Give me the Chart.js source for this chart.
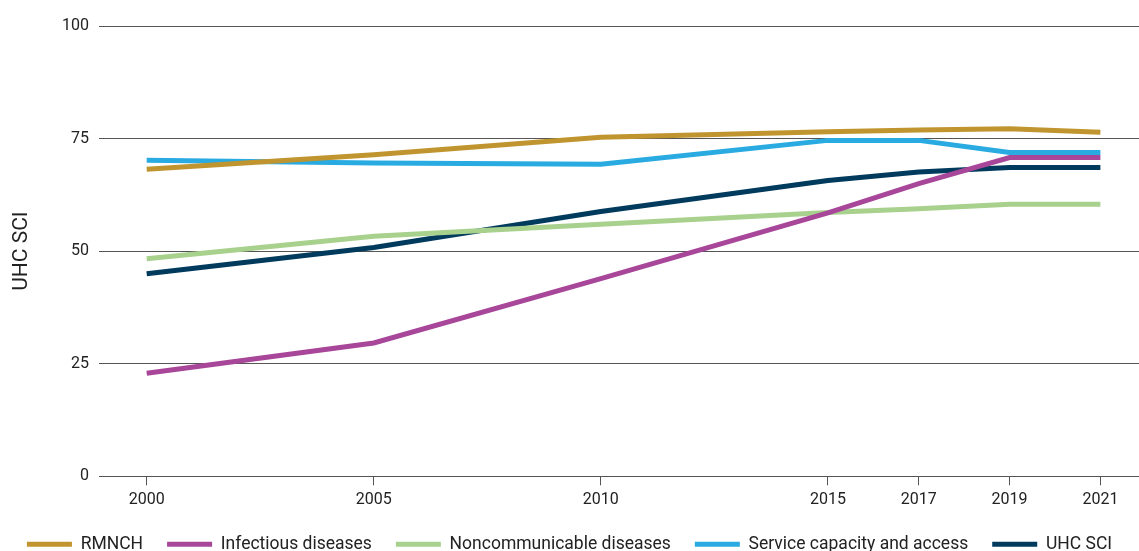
<!DOCTYPE html>
<html>
<head>
<meta charset="utf-8">
<script src="https://cdn.jsdelivr.net/npm/chart.js@4.4.1/dist/chart.umd.min.js"></script>
<style>
  html, body { margin: 0; padding: 0; background: #fff; }
  #wrap { width: 1139px; height: 551px; position: relative; }
</style>
</head>
<body>
<div id="wrap"><canvas id="c"></canvas></div>
<script>
const years = [2000, 2005, 2010, 2015, 2017, 2019, 2021];
const rmnch = [68.2, 71.4, 75.3, 76.5, 76.9, 77.2, 76.4];
const infectious = [22.9, 29.6, 43.9, 58.5, 65.0, 70.8, 70.8];
const noncommunicable = [48.3, 53.3, 56.0, 58.6, 59.4, 60.4, 60.4];
const serviceCapacity = [70.2, 69.6, 69.3, 74.6, 74.6, 71.9, 71.9];
const uhcSci = [45.0, 50.8, 58.8, 65.7, 67.6, 68.6, 68.6];
const yTicks = [0, 25, 50, 75, 100];

const seriesNames = ['RMNCH', 'Infectious diseases', 'Noncommunicable diseases', 'Service capacity and access', 'UHC SCI'];
const seriesValues = [rmnch, infectious, noncommunicable, serviceCapacity, uhcSci];
const seriesColors = ['#c0952f', '#a8479a', '#a9d18e', '#29abe2', '#003a5c'];

const datasets = seriesNames.map((name, i) => ({
  label: name,
  data: years.map((y, j) => ({ x: y, y: seriesValues[i][j] })),
  borderColor: seriesColors[i],
  backgroundColor: seriesColors[i],
  borderWidth: 5,
  pointRadius: 0,
  pointHoverRadius: 0,
  tension: 0,
  fill: false
}));

const FONT = "Roboto, 'DejaVu Sans', sans-serif";

new Chart(document.getElementById('c'), {
  type: 'line',
  data: { datasets },
  options: {
    responsive: true,
    maintainAspectRatio: false,
    animation: false,
    layout: { padding: { left: 0, right: 0, top: 26, bottom: -12 } },
    plugins: {
      tooltip: { enabled: false },
      legend: {
        position: 'bottom',
        align: 'center',
        labels: {
          boxWidth: 45,
          boxHeight: 5,
          padding: 24,
          color: '#222',
          font: { family: FONT, size: 17.5 },
          generateLabels(chart) {
            const items = Chart.defaults.plugins.legend.labels.generateLabels(chart);
            items.forEach(it => { it.lineWidth = 0; it.strokeStyle = 'rgba(0,0,0,0)'; });
            return items;
          }
        }
      }
    },
    scales: {
      x: {
        type: 'linear',
        min: 1998.95,
        max: 2021.85,
        afterBuildTicks(scale) { scale.ticks = years.map(v => ({ value: v })); },
        afterFit(scale) { scale.height -= 3; },
        ticks: {
          color: '#222',
          font: { family: FONT, size: 16 },
          padding: 5,
          maxRotation: 0,
          autoSkip: false,
          callback: v => String(v)
        },
        grid: {
          drawOnChartArea: false,
          drawTicks: true,
          tickLength: 9,
          tickColor: '#555',
          color: '#555'
        },
        border: { display: true, color: '#555', width: 1 }
      },
      y: {
        min: 0,
        max: 100,
        afterBuildTicks(scale) { scale.ticks = yTicks.map(v => ({ value: v })); },
        afterFit(scale) { scale.width = 99; },
        title: {
          display: true,
          text: 'UHC SCI',
          color: '#222',
          font: { family: FONT, size: 21 },
          padding: { top: 9, bottom: 0 }
        },
        ticks: {
          color: '#222',
          font: { family: FONT, size: 16 },
          padding: 10
        },
        grid: {
          color: '#555',
          lineWidth: 1,
          drawTicks: false
        },
        border: { display: false }
      }
    }
  }
});
</script>
</body>
</html>
